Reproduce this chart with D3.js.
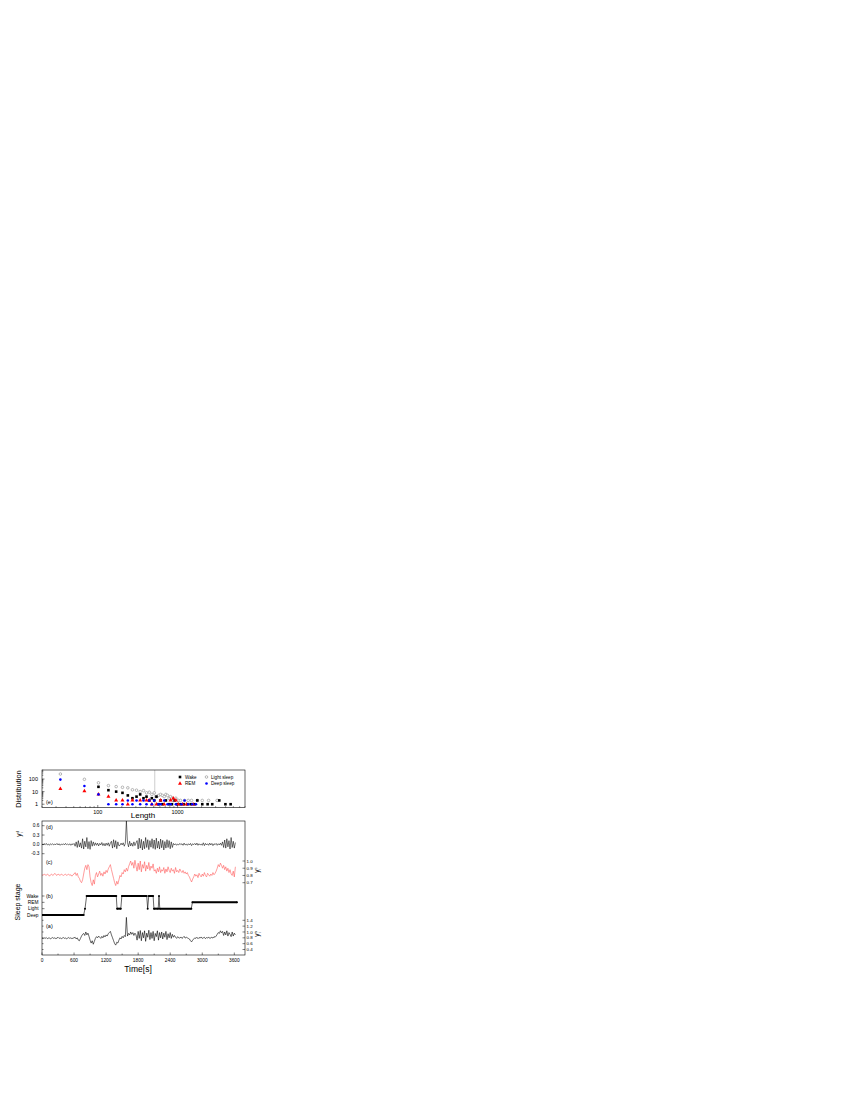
<!DOCTYPE html>
<html><head><meta charset="utf-8">
<script src="https://cdn.jsdelivr.net/npm/d3@7"></script>
<style>
html,body{margin:0;padding:0;background:#fff;}
svg{display:block;font-family:"Liberation Sans",Arial,sans-serif;}
</style></head>
<body><svg id="c" width="850" height="1100"></svg>
<script>
// ---------- DATA ----------
// (e) distribution of stage lengths
const lightLen = [34,68,102,136,170,204,238,272,306,340,374,408,442,476,510,544,578,612,646,680,714,748,782,816,850,884,952,1020,1088,1224,1360,1496,1768,2040,2448,3128];
const lightCnt = [250,95,50,30,25,22,20,14,13,10,12,8,9,6,8,4,5,6,5,4,6,5,3,4,3,2,3,2,2,2,2,2,2,2,2,2];
const wakeLen = [102,136,170,204,238,272,306,340,374,408,442,476,510,544,578,612,646,714,782,850,918,986,1088,1190,1326,1462,1632,1768,2040,2380,2720,3332,3978,4624];
const wakeCnt = [24,13,10,8,5,3,4,6,3,4,2,3,2,4,1,2,1,2,1,1,2,1,1,1,1,1,1,2,1,1,1,2,1,1];
const remLen = [34,68,102,136,170,204,238,272,340,408,442,476,544,612,680,816,884,952,1020,1156,1292,1564];
const remCnt = [17,11,6,4,2,2,1,2,2,2,2,1,1,2,1,2,3,2,1,1,1,1];
const deepLen = [34,68,102,136,170,204,238,272,306,340,374,408,442,476,510,578,612,680,748,816,952,1122,1224,1360,1530,1700];
const deepCnt = [90,28,6,1,1,1,2,1,2,1,2,1,2,1,2,1,1,2,1,1,1,1,2,1,1,1];
const refLength = 518;

// time series, one value every 20 s from 0 s
const sampleStep = 20;
const yd = [0.01,-0.02,0.02,-0.01,0.03,-0.02,0.01,-0.03,0.02,-0.01,0.02,-0.02,0.01,-0.01,0.03,-0.02,0.02,-0.03,0.01,-0.01,0.02,-0.02,0.03,-0.01,0.01,-0.02,0.02,-0.03,0.02,-0.01,0.03,
-0.06,0.08,-0.10,0.12,-0.08,0.05,-0.12,0.18,-0.15,0.10,-0.08,0.22,-0.14,0.09,-0.16,0.12,-0.06,0.08,-0.04,0.05,
-0.03,0.04,-0.05,0.03,-0.02,0.06,-0.04,0.03,-0.05,0.04,-0.03,0.05,-0.06,0.04,
0.10,-0.12,0.15,-0.09,0.12,-0.14,0.08,-0.05,
-0.03,0.04,-0.02,0.05,-0.06,0.03,
0.75,
0.06,-0.08,0.10,-0.05,0.04,-0.06,0.08,-0.04,0.05,
0.12,-0.15,0.20,-0.12,0.16,-0.18,0.10,-0.14,0.22,-0.10,0.15,-0.17,0.12,-0.09,0.18,-0.13,0.14,-0.16,0.20,-0.12,0.10,-0.15,0.17,-0.11,0.13,-0.18,0.09,-0.12,0.15,-0.10,0.12,-0.14,0.08,-0.10,
0.03,-0.02,0.02,-0.03,0.01,-0.02,0.03,-0.01,0.02,-0.03,0.04,-0.02,0.01,-0.03,0.02,-0.02,0.03,-0.04,0.02,-0.01,0.03,-0.02,0.04,-0.03,0.02,-0.02,0.01,-0.03,0.05,-0.04,0.03,-0.02,0.02,-0.03,0.04,-0.02,0.03,-0.04,0.02,-0.01,0.03,-0.03,0.02,-0.02,0.04,-0.03,
0.08,-0.10,0.14,-0.12,0.18,-0.08,0.12,-0.15,0.22,-0.10,0.10,-0.12,0.06];
const yc = [0.81,0.80,0.82,0.81,0.80,0.82,0.81,0.79,0.81,0.82,0.80,0.81,0.83,0.81,0.80,0.82,0.81,0.80,0.82,0.81,0.80,0.81,0.82,0.80,0.81,0.82,0.80,0.81,0.79,0.81,0.82,
0.84,0.80,0.83,0.78,0.76,0.72,0.70,0.74,
0.82,0.90,0.94,0.88,0.95,0.92,
0.78,0.70,0.66,0.74,0.68,
0.80,0.84,0.78,0.82,0.86,0.80,0.83,0.79,0.85,0.82,0.87,0.84,0.89,0.92,0.95,
0.88,0.82,0.76,0.70,0.66,0.72,0.68,
0.74,0.80,0.78,0.84,0.82,0.88,0.85,0.90,0.86,0.92,0.96,
1.00,0.94,0.98,0.90,1.01,0.93,
0.86,0.97,0.88,1.00,0.85,0.95,0.90,0.99,0.86,0.94,0.89,0.98,0.87,0.93,0.90,0.96,0.86,
0.88,0.83,0.90,0.85,0.92,0.84,0.88,0.86,0.91,0.83,0.89,0.85,0.92,0.87,0.84,0.90,0.86,0.88,0.83,0.91,0.85,0.87,0.84,0.89,
0.86,0.84,0.87,0.83,0.85,0.82,0.84,0.80,0.78,
0.74,0.71,0.75,
0.78,0.82,0.79,0.81,0.77,0.83,0.80,0.78,0.82,0.79,0.84,0.80,0.78,0.83,0.81,0.79,0.82,0.80,0.84,0.81,0.83,0.86,
0.90,0.95,0.92,0.97,0.94,
0.90,0.94,0.88,0.92,0.86,0.90,0.84,0.88,0.82,0.80,0.86,0.78,0.92];
const ya = [0.79,0.77,0.80,0.78,0.81,0.77,0.79,0.80,0.76,0.79,0.81,0.78,0.80,0.77,0.79,0.82,0.78,0.80,0.77,0.79,0.81,0.78,0.80,0.76,0.79,0.81,0.78,0.80,0.77,0.79,0.80,
0.82,0.76,0.80,0.72,0.70,0.78,0.86,0.92,
0.95,0.88,1.00,0.90,0.96,0.85,
0.72,0.62,0.70,0.58,0.68,
0.78,0.84,0.80,0.86,0.82,0.78,0.85,0.80,0.88,0.83,0.90,0.86,0.94,0.98,1.02,
0.90,0.80,0.70,0.60,0.55,0.65,0.62,
0.72,0.80,0.76,0.85,0.80,0.88,0.84,
1.50,
0.86,0.95,0.90,1.00,0.92,0.98,0.88,0.96,0.90,
0.72,1.02,0.78,1.05,0.70,0.98,0.80,1.04,0.68,0.96,0.82,1.06,0.74,0.98,0.78,1.02,0.70,0.95,0.84,1.04,0.72,0.98,0.80,1.00,0.76,0.96,0.82,1.02,0.74,0.94,0.80,0.98,0.78,0.92,0.82,0.88,
0.82,0.78,0.84,0.80,0.79,0.83,0.78,0.81,0.85,0.79,0.82,0.80,0.78,0.76,
0.70,0.66,0.72,
0.76,0.80,0.78,0.82,0.77,0.81,0.79,0.83,0.78,0.80,0.82,0.77,0.81,0.79,0.83,0.78,0.80,0.82,0.79,0.84,0.82,0.86,
0.92,0.98,0.95,1.04,0.97,1.02,
0.88,1.00,0.90,1.04,0.86,0.98,0.92,0.84,1.00,0.86,0.96,0.90];

// (b) hypnogram: transition points (time, stage index)
const stageNames = ["Deep","Light","REM","Wake"];
const stageT = [0,780,805,835,1390,1405,1475,1495,1960,1978,1998,2080,2095,2175,2190,2205,2795,2815,3650];
const stageS = [0,0,1,3,3,1,1,3,3,1,3,3,1,1,3,1,1,2,2];

// tick labels
const distYTicks = [1,10,100];
const distXTicks = [100,1000];
const timeTicks = [0,600,1200,1800,2400,3000,3600];
const dTicks = [0.6,0.3,0.0,-0.3];
const cTicks = [1.0,0.9,0.8,0.7];
const aTicks = [1.4,1.2,1.0,0.8,0.6,0.4];

// ---------- DRAW ----------
const svg = d3.select("#c");

// ---- panel (e)
const E = {l:42, r:245, t:770, b:807.5};
const ex = d3.scaleLog().domain([20,7000]).range([E.l,E.r]);
const ey = d3.scaleLog().domain([0.55,520]).range([E.b,E.t]);
const ge = svg.append("g");
ge.append("defs").append("clipPath").attr("id","clipE").append("rect")
  .attr("x",E.l).attr("y",E.t).attr("width",E.r-E.l).attr("height",E.b-E.t);
ge.append("line").attr("x1",ex(refLength)).attr("x2",ex(refLength)).attr("y1",E.t).attr("y2",E.b)
  .attr("stroke","#aaa").attr("stroke-width",0.6);
const pe = ge.append("g").attr("clip-path","url(#clipE)");
function zip(a,b){return a.map((v,i)=>[v,b[i]]);}
pe.selectAll(".lt").data(zip(lightLen,lightCnt)).join("circle")
  .attr("cx",d=>ex(d[0])).attr("cy",d=>ey(d[1])).attr("r",1.3)
  .attr("fill","#fff").attr("stroke","#888").attr("stroke-width",0.6);
pe.selectAll(".wk").data(zip(wakeLen,wakeCnt)).join("rect")
  .attr("x",d=>ex(d[0])-1.3).attr("y",d=>ey(d[1])-1.3).attr("width",2.6).attr("height",2.6).attr("fill","#000");
const tri = d3.symbol().type(d3.symbolTriangle).size(7);
pe.selectAll(".rm").data(zip(remLen,remCnt)).join("path")
  .attr("d",tri).attr("transform",d=>`translate(${ex(d[0])},${ey(d[1])})`).attr("fill","#f00");
pe.selectAll(".dp").data(zip(deepLen,deepCnt)).join("circle")
  .attr("cx",d=>ex(d[0])).attr("cy",d=>ey(d[1])).attr("r",1.3).attr("fill","#00f");
ge.append("rect").attr("x",E.l).attr("y",E.t).attr("width",E.r-E.l).attr("height",E.b-E.t)
  .attr("fill","none").attr("stroke","#000").attr("stroke-width",0.6);
// log ticks (inward)
const exMinor = [];
[10,100,1000].forEach(dec=>{for(let k=2;k<=9;k++){const v=dec*k; if(v>=20&&v<=7000) exMinor.push(v);}});
ge.selectAll(".exm").data(exMinor).join("line").attr("x1",d=>ex(d)).attr("x2",d=>ex(d))
  .attr("y1",E.b).attr("y2",E.b-1.3).attr("stroke","#000").attr("stroke-width",0.5);
ge.selectAll(".exM").data(distXTicks).join("line").attr("x1",d=>ex(d)).attr("x2",d=>ex(d))
  .attr("y1",E.b).attr("y2",E.b-2.5).attr("stroke","#000").attr("stroke-width",0.5);
ge.selectAll(".exl").data(distXTicks).join("text").attr("x",d=>ex(d)).attr("y",813.8)
  .attr("text-anchor","middle").attr("font-size",5.5).text(d=>d);
const eyMinor = [];
[1,10,100].forEach(dec=>{for(let k=2;k<=9;k++){const v=dec*k; if(v<=520) eyMinor.push(v);}});
ge.selectAll(".eym").data(eyMinor).join("line").attr("x1",E.l).attr("x2",E.l+1.3)
  .attr("y1",d=>ey(d)).attr("y2",d=>ey(d)).attr("stroke","#000").attr("stroke-width",0.5);
ge.selectAll(".eyM").data(distYTicks).join("line").attr("x1",E.l).attr("x2",E.l+2.5)
  .attr("y1",d=>ey(d)).attr("y2",d=>ey(d)).attr("stroke","#000").attr("stroke-width",0.5);
ge.selectAll(".eyl").data(distYTicks).join("text").attr("x",38).attr("y",d=>ey(d)+2)
  .attr("text-anchor","end").attr("font-size",5.5).text(d=>d);
ge.append("text").attr("x",143).attr("y",818.3).attr("text-anchor","middle").attr("font-size",8).text("Length");
ge.append("text").attr("transform","translate(21,789) rotate(-90)").attr("text-anchor","middle")
  .attr("font-size",7.5).text("Distribution");
ge.append("text").attr("x",46).attr("y",804).attr("font-size",5.5).text("(e)");
// legend
const lg = ge.append("g").attr("font-size",4.6);
lg.append("rect").attr("x",178.7).attr("y",775.7).attr("width",2.6).attr("height",2.6).attr("fill","#000");
lg.append("text").attr("x",185).attr("y",778.7).text("Wake");
lg.append("circle").attr("cx",206.5).attr("cy",777).attr("r",1.3).attr("fill","#fff").attr("stroke","#888").attr("stroke-width",0.6);
lg.append("text").attr("x",211).attr("y",778.7).text("Light sleep");
lg.append("path").attr("d",tri).attr("transform","translate(180,783.5)").attr("fill","#f00");
lg.append("text").attr("x",185).attr("y",785.2).text("REM");
lg.append("circle").attr("cx",206.5).attr("cy",783.5).attr("r",1.3).attr("fill","#00f");
lg.append("text").attr("x",211).attr("y",785.2).text("Deep sleep");

// ---- bottom panel
const B = {l:42, r:245, t:821, b:955};
const tx = d3.scaleLinear().domain([0,3800]).range([B.l,B.r]);
const dy = d3.scaleLinear().domain([-0.3,0.6]).range([853.7,825.7]);
const cy = d3.scaleLinear().domain([0.7,1.0]).range([882.7,861]);
const by = d3.scaleLinear().domain([0,3]).range([915,896]);
const ay = d3.scaleLinear().domain([0.4,1.4]).range([949.5,920.3]);
const gb = svg.append("g");
gb.append("defs").append("clipPath").attr("id","clipB").append("rect")
  .attr("x",B.l).attr("y",B.t).attr("width",B.r-B.l).attr("height",B.b-B.t);
const pb = gb.append("g").attr("clip-path","url(#clipB)");
const tOf = i => i*sampleStep;
pb.append("path").datum(yd).attr("fill","none").attr("stroke","#000").attr("stroke-width",0.55)
  .attr("d",d3.line().x((d,i)=>tx(tOf(i))).y(d=>dy(d)));
pb.append("path").datum(yc).attr("fill","none").attr("stroke","#ff5a5a").attr("stroke-width",0.6)
  .attr("d",d3.line().x((d,i)=>tx(tOf(i))).y(d=>cy(d)));
pb.append("path").datum(ya).attr("fill","none").attr("stroke","#000").attr("stroke-width",0.6)
  .attr("d",d3.line().x((d,i)=>tx(tOf(i))).y(d=>ay(d)));
// hypnogram
const hp = stageT.map((t,i)=>[t,stageS[i]]);
pb.append("path").datum(hp).attr("fill","none").attr("stroke","#000").attr("stroke-width",0.6)
  .attr("d",d3.line().x(d=>tx(d[0])).y(d=>by(d[1])));
const segs = [];
for(let i=0;i<hp.length-1;i++) if(hp[i][1]===hp[i+1][1]) segs.push([hp[i],hp[i+1]]);
pb.selectAll(".seg").data(segs).join("line")
  .attr("x1",d=>tx(d[0][0])).attr("x2",d=>tx(d[1][0])).attr("y1",d=>by(d[0][1])).attr("y2",d=>by(d[1][1]))
  .attr("stroke","#000").attr("stroke-width",2);
pb.selectAll(".hpt").data(hp).join("circle").attr("cx",d=>tx(d[0])).attr("cy",d=>by(d[1])).attr("r",1)
  .attr("fill","#000");

gb.append("rect").attr("x",B.l).attr("y",B.t).attr("width",B.r-B.l).attr("height",B.b-B.t)
  .attr("fill","none").attr("stroke","#000").attr("stroke-width",0.6);
// time axis
const tMinor = d3.range(300,3800,600);
gb.selectAll(".tm").data(tMinor).join("line").attr("x1",d=>tx(d)).attr("x2",d=>tx(d))
  .attr("y1",B.b).attr("y2",B.b-1.4).attr("stroke","#000").attr("stroke-width",0.5);
gb.selectAll(".tM").data(timeTicks).join("line").attr("x1",d=>tx(d)).attr("x2",d=>tx(d))
  .attr("y1",B.b).attr("y2",B.b-2.5).attr("stroke","#000").attr("stroke-width",0.5);
gb.selectAll(".tl").data(timeTicks).join("text").attr("x",d=>tx(d)).attr("y",962)
  .attr("text-anchor","middle").attr("font-size",4.8).text(d=>d);
gb.append("text").attr("x",138).attr("y",972).attr("text-anchor","middle").attr("font-size",8.5).text("Time[s]");
// left (d) axis
gb.selectAll(".dM").data(dTicks).join("line").attr("x1",B.l).attr("x2",B.l+2.5)
  .attr("y1",d=>dy(d)).attr("y2",d=>dy(d)).attr("stroke","#000").attr("stroke-width",0.5);
gb.selectAll(".dl").data(dTicks).join("text").attr("x",39.5).attr("y",d=>dy(d)+1.7)
  .attr("text-anchor","end").attr("font-size",4.8).text(d=>d.toFixed(1));
// left (b) axis
gb.selectAll(".bM").data([0,1,2,3]).join("line").attr("x1",B.l).attr("x2",B.l+2.5)
  .attr("y1",d=>by(d)).attr("y2",d=>by(d)).attr("stroke","#000").attr("stroke-width",0.5);
gb.selectAll(".bl").data([0,1,2,3]).join("text").attr("x",38.5).attr("y",d=>by(d)+1.7)
  .attr("text-anchor","end").attr("font-size",4.8).text(d=>stageNames[d]);
// left mirror ticks for (a)
gb.selectAll(".aL").data(aTicks).join("line").attr("x1",B.l).attr("x2",B.l+1.5)
  .attr("y1",d=>ay(d)).attr("y2",d=>ay(d)).attr("stroke","#000").attr("stroke-width",0.5);
// right (c) axis
gb.selectAll(".cM").data(cTicks).join("line").attr("x1",B.r).attr("x2",B.r-2.5)
  .attr("y1",d=>cy(d)).attr("y2",d=>cy(d)).attr("stroke","#000").attr("stroke-width",0.5);
gb.selectAll(".cl").data(cTicks).join("text").attr("x",B.r+1.5).attr("y",d=>cy(d)+1.6)
  .attr("font-size",4.4).text(d=>d.toFixed(1));
// right (a) axis
gb.selectAll(".aM").data(aTicks).join("line").attr("x1",B.r).attr("x2",B.r-2.5)
  .attr("y1",d=>ay(d)).attr("y2",d=>ay(d)).attr("stroke","#000").attr("stroke-width",0.5);
gb.selectAll(".al").data(aTicks).join("text").attr("x",B.r+1.5).attr("y",d=>ay(d)+1.6)
  .attr("font-size",4.4).text(d=>d.toFixed(1));
// panel labels
[["(d)",829],["(c)",864],["(b)",898],["(a)",928]].forEach(([t,y])=>{
  gb.append("text").attr("x",46).attr("y",y).attr("font-size",5.5).text(t);
});
// axis titles
function ylab(x,y,sup){
  const t = gb.append("text").attr("transform",`translate(${x},${y}) rotate(-90)`)
    .attr("text-anchor","middle").attr("font-size",6.5);
  t.append("tspan").text("y");
  t.append("tspan").attr("font-size",4).attr("dy",-2.5).text(sup);
  t.append("tspan").attr("font-size",4).attr("dx",-2).attr("dy",4.5).text("i");
}
ylab(21,834,"d");
ylab(259,870,"c");
ylab(259,934,"a");
gb.append("text").attr("transform","translate(20,902) rotate(-90)").attr("text-anchor","middle")
  .attr("font-size",7).text("Sleep stage");
</script></body></html>
